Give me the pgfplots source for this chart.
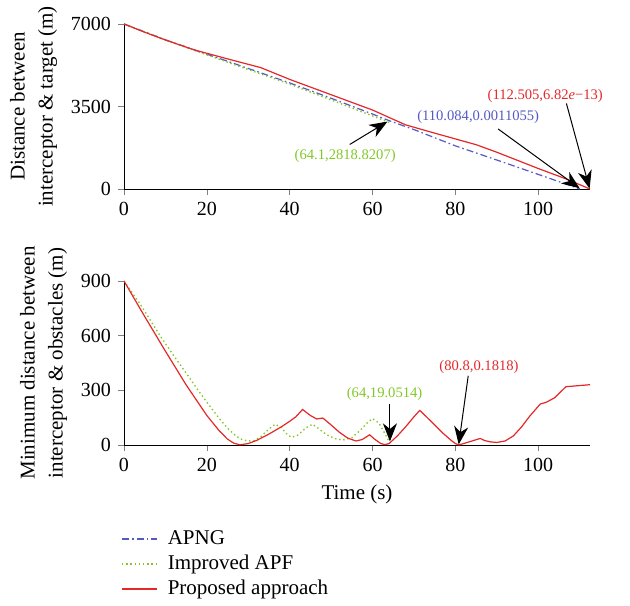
\documentclass[border=0pt]{standalone}
\usepackage{fontspec}
\setmainfont{Liberation Serif}
\usepackage{pgfplots}
\pgfplotsset{compat=1.18}
\usetikzlibrary{arrows.meta}
\definecolor{cred}{RGB}{228,40,40}
\definecolor{cblue}{RGB}{85,90,195}
\definecolor{cgreen}{RGB}{130,200,40}
\tikzset{
  ann/.style={font=\fontsize{7.3}{8.5}\selectfont},
  arr/.style={black, line width=0.5pt, -{Stealth[length=9pt,width=7pt,inset=2.8pt]}},
  redl/.style={cred, line width=0.6pt},
  bluel/.style={cblue, line width=0.6pt, dash pattern=on 3.5pt off 1.5pt on 0.8pt off 1.5pt},
  greenl/.style={cgreen, line width=0.7pt, dash pattern=on 0.7pt off 1.4pt},
}
\pgfplotsset{
  common/.style={
    width=233pt, scale only axis,
    axis lines=left, axis line style={-},
    xmin=0, xmax=112.5, xtick={0,20,40,60,80,100},
    tick align=outside, major tick length=3pt,
    tick label style={font=\fontsize{10}{12}\selectfont},
    label style={font=\fontsize{10.5}{14}\selectfont},
    ylabel style={align=center},
    /pgf/number format/assume math mode=true,
    /pgf/number format/1000 sep={},
    scaled ticks=false,
    clip=false,
  },
}
\begin{document}
\begin{tikzpicture}
\useasboundingbox (-62pt,-208pt) rectangle (253pt,94.5pt);
\begin{axis}[common, height=82.5pt, ymin=0, ymax=7000, ytick={0,3500,7000},
  ylabel={Distance between\\interceptor \& target (m)}]
\addplot[bluel] coordinates {(0,7000)(10,6330)(17,5900)(25,5420)(40,4500)(50,3850)(60,3180)(64,2900)(70,2520)(80,1830)(90,1230)(100,620)(110.084,0)};
\addplot[greenl] coordinates {(0,7000)(10,6330)(17,5880)(25,5380)(40,4450)(50,3780)(60,3100)(64.1,2818.8)};
\addplot[redl] coordinates {(0,7000)(5,6650)(10,6320)(17,5900)(25,5520)(33,5150)(40,4650)(50,4000)(60,3350)(68,2720)(75,2370)(85,1880)(90,1560)(100,870)(107,410)(112.505,0)};
\node[ann, cgreen] at (axis cs:53.4,1383) {(64.1,2818.8207)};
\draw[arr] (axis cs:54.5,1890) -- (axis cs:63.6,2860);
\node[ann, cblue] at (axis cs:85.5,3068) {(110.084,0.0011055)};
\draw[arr] (axis cs:90.3,2549) -- (axis cs:110.0,30);
\node[ann, cred] at (axis cs:101.7,3932) {(112.505,6.82\textit{e}−13)};
\draw[arr] (axis cs:106.8,3630) -- (axis cs:112.4,20);
\end{axis}
\begin{axis}[common, at={(0,-128pt)}, height=82pt, ymin=0, ymax=900, ytick={0,300,600,900},
  xlabel={Time (s)},
  ylabel={Minimum distance between\\interceptor \& obstacles (m)},
  legend style={at={(rel axis cs:0,0)}, anchor=north west, xshift=-1.5pt, yshift=-40.5pt,
    draw=none, fill=none, inner sep=0pt, row sep=0pt, column sep=4pt,
    font=\fontsize{10.5}{12}\selectfont,
    nodes={inner sep=1pt, text height=8pt, text depth=2.5pt}},
  legend image code/.code={\draw[#1] (0cm,0cm) -- (17.5pt,0cm);},
  legend cell align=left]
\addlegendimage{bluel}
\addlegendentry{APNG}
\addplot[greenl] coordinates {(0,900)(4,770)(8.7,600)(12,490)(15,395)(17.9,300)(20,235)(23,145)(25,92)(27,50)(28.5,30)(30,22)(31.5,25)(33,45)(35,88)(36.5,114)(38,95)(39.5,55)(40.5,42)(42,55)(44,95)(45.5,114)(47,90)(49,55)(51,35)(52.8,27)(55,40)(57,80)(59,128)(60,145)(61.5,122)(63,62)(64,19.05)};
\addlegendentry{Improved APF}
\addplot[redl] coordinates {(0,900)(5,705)(10,515)(15,330)(20,162)(23,78)(25,32)(26.5,10)(28,1)(30,8)(32,25)(35,60)(38,100)(40,130)(41.5,155)(43.1,195)(45,162)(46.5,143)(48,148)(50,110)(52,70)(54,38)(56,22)(57.5,30)(59.3,56)(60.5,32)(62,8)(63,2)(64,8)(66,50)(68,100)(70,155)(71.4,190)(73,155)(75,110)(77,65)(79,25)(80,8)(80.8,0.2)(82,8)(84,22)(86,36)(87,25)(88.5,17)(90,14)(92,22)(94,50)(96,100)(98,160)(100.5,225)(102,235)(104,260)(106.7,320)(112.5,331)};
\addlegendentry{Proposed approach}
\node[ann, cgreen] at (axis cs:62.9,280) {(64,19.0514)};
\draw[arr] (axis cs:64.2,226) -- (axis cs:64.2,20);
\node[ann, cred] at (axis cs:85.7,428) {(80.8,0.1818)};
\draw[arr] (axis cs:83.1,380) -- (axis cs:80.8,3);
\end{axis}
\end{tikzpicture}
\end{document}
